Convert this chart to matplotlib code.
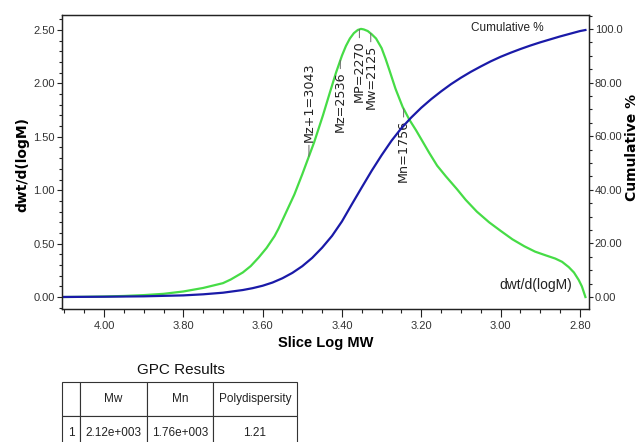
import numpy as np
import matplotlib
matplotlib.use("Agg")
import matplotlib.pyplot as plt
from matplotlib.ticker import MultipleLocator, FormatStrFormatter

# slice log MW vs dwt/d(logM)
dist_logm = [4.11, 4.05, 4.00, 3.95, 3.90, 3.85, 3.80, 3.75, 3.70, 3.68, 3.65, 3.63,
             3.61, 3.59, 3.57, 3.56, 3.54, 3.52, 3.50, 3.486, 3.47, 3.448, 3.43, 3.415,
             3.40, 3.39, 3.38, 3.37, 3.36, 3.352, 3.345, 3.335, 3.325, 3.314, 3.30,
             3.29, 3.28, 3.265, 3.247, 3.23, 3.213, 3.18, 3.16, 3.138, 3.11, 3.088,
             3.06, 3.029, 3.00, 2.97, 2.94, 2.913, 2.886, 2.862, 2.845, 2.828, 2.815,
             2.803, 2.795, 2.786]
dist_wt = [0.0, 0.002, 0.005, 0.010, 0.018, 0.030, 0.052, 0.085, 0.13, 0.165, 0.23, 0.29,
           0.37, 0.46, 0.57, 0.64, 0.80, 0.96, 1.15, 1.29, 1.45, 1.70, 1.92, 2.10,
           2.26, 2.35, 2.42, 2.47, 2.50, 2.51, 2.505, 2.49, 2.46, 2.42, 2.33,
           2.23, 2.12, 1.95, 1.78, 1.66, 1.56, 1.35, 1.23, 1.13, 1.01, 0.91,
           0.80, 0.70, 0.62, 0.54, 0.475, 0.425, 0.39, 0.36, 0.33, 0.28, 0.23,
           0.16, 0.10, 0.0]

# slice log MW vs cumulative %
cum_logm = [4.11, 4.0, 3.9, 3.8, 3.75, 3.7, 3.65, 3.625, 3.60, 3.575, 3.55, 3.525,
            3.50, 3.475, 3.45, 3.425, 3.40, 3.375, 3.35, 3.325, 3.30, 3.275, 3.25,
            3.225, 3.20, 3.175, 3.15, 3.125, 3.10, 3.075, 3.05, 3.025, 3.00, 2.975,
            2.95, 2.925, 2.90, 2.875, 2.85, 2.825, 2.80, 2.786]
cum_pct = [0.0, 0.1, 0.25, 0.6, 1.0, 1.6, 2.6, 3.3, 4.2, 5.4, 7.0, 9.0,
           11.5, 14.6, 18.4, 22.8, 28.2, 34.6, 40.9, 47.1, 52.9, 58.3, 63.0,
           67.0, 70.6, 73.8, 76.7, 79.4, 81.8, 84.0, 86.0, 87.9, 89.6, 91.1,
           92.5, 93.8, 95.0, 96.1, 97.2, 98.2, 99.2, 99.6]

# molecular weight averages
avg_names = ["Mz+1", "Mz", "MP", "Mw", "Mn"]
avg_values = [3043, 2536, 2270, 2125, 1756]

right_ticks = [0, 20, 40, 60, 80, 100]
right_labels = ["0.00", "20.00", "40.00", "60.00", "80.00", "100.0"]

table_cols = ["", "Mw", "Mn", "Polydispersity"]
table_rows = [["1", "2.12e+003", "1.76e+003", "1.21"]]

plt.rcParams['font.family'] = ['Liberation Sans', 'DejaVu Sans']

green = '#46dc46'
blue = '#1a1aa8'
dark = '#222222'

fig = plt.figure(figsize=(6.38, 4.42), dpi=100)
ax1 = fig.add_axes([62 / 638, 1 - 309 / 442, 527 / 638, 294 / 442])
ax2 = ax1.twinx()

ax1.plot(dist_logm, dist_wt, color=green, lw=1.6)
ax2.plot(cum_logm, cum_pct, color=blue, lw=1.6)

ax1.set_xlim(4.106, 2.777)
ax1.set_ylim(-0.112, 2.64)
ax2.set_ylim(-4.48, 105.2)

ax1.xaxis.set_major_locator(MultipleLocator(0.2))
ax1.xaxis.set_minor_locator(MultipleLocator(0.05))
ax1.xaxis.set_major_formatter(FormatStrFormatter('%.2f'))
ax1.yaxis.set_major_locator(MultipleLocator(0.5))
ax1.yaxis.set_minor_locator(MultipleLocator(0.1))
ax1.yaxis.set_major_formatter(FormatStrFormatter('%.2f'))
ax2.set_yticks(right_ticks)
ax2.set_yticklabels(right_labels)
ax2.yaxis.set_minor_locator(MultipleLocator(5))

ax1.tick_params(axis='x', which='major', length=5.8, width=0.8, pad=2.5, labelsize=8,
                colors=dark, labelcolor='#333333')
ax1.tick_params(axis='x', which='minor', length=3, width=0.8, colors=dark)
ax1.tick_params(axis='y', which='major', length=3.6, width=0.8, pad=1.5, labelsize=8,
                colors=dark, labelcolor='#333333')
ax1.tick_params(axis='y', which='minor', length=2.2, width=0.8, colors=dark)
ax2.tick_params(axis='y', which='major', length=3.2, width=0.8, pad=1, labelsize=8,
                colors=dark, labelcolor='#333333')
ax2.tick_params(axis='y', which='minor', length=2.2, width=0.8, colors=dark)

for a in (ax1, ax2):
    for sp in a.spines.values():
        sp.set_linewidth(0.9)
        sp.set_color(dark)

ax1.set_xlabel("Slice Log MW", fontsize=10.5, fontweight='bold')
ax1.xaxis.set_label_coords(0.50, -0.092)
ax1.set_ylabel("dwt/d(logM)", fontsize=10, fontweight='bold', family='DejaVu Sans')
ax1.yaxis.set_label_coords(-0.061, 0.49)
ax2.set_ylabel("Cumulative %", fontsize=10, fontweight='bold', family='DejaVu Sans')
ax2.yaxis.set_label_coords(1.068, 0.548)

ax2.text(2.8906, 100.4, "Cumulative %", ha='right', va='center', fontsize=8.5, color=dark)
ax1.text(2.820, 0.112, "dwt/d(logM)", ha='right', va='center', fontsize=10, color=dark)

# averages marked on the distribution curve
xs = np.array(dist_logm)[::-1]
ys = np.array(dist_wt)[::-1]
for name, val in zip(avg_names, avg_values):
    lx = np.log10(val)
    ly = np.interp(lx, xs, ys)
    up = name == "Mz+1"
    ax1.annotate(f"{name}={val}", xy=(lx, ly), xytext=(0, 10 if up else -8),
                 textcoords='offset points', rotation=90, ha='center',
                 va='bottom' if up else 'top', fontsize=9.2, family='DejaVu Sans',
                 color=dark,
                 arrowprops=dict(arrowstyle='-', color='#666666', lw=0.7,
                                 shrinkA=0, shrinkB=0))

# results table under the chart
fig.text(181 / 638, 1 - 370 / 442, "GPC Results", ha='center', va='center',
         fontsize=11, color='#111111')
tax = fig.add_axes([62 / 638, -8 / 442, 235 / 638, 68 / 442])
tax.axis('off')
tbl = tax.table(cellText=table_rows, colLabels=table_cols, cellLoc='center',
                colWidths=[18 / 235, 67 / 235, 66 / 235, 84 / 235], bbox=[0, 0, 1, 1])
tbl.auto_set_font_size(False)
tbl.set_fontsize(8.5)
for cell in tbl.get_celld().values():
    cell.set_edgecolor('#333333')
    cell.set_linewidth(0.8)
    cell.get_text().set_color(dark)

fig.savefig("out.png", dpi=100)
